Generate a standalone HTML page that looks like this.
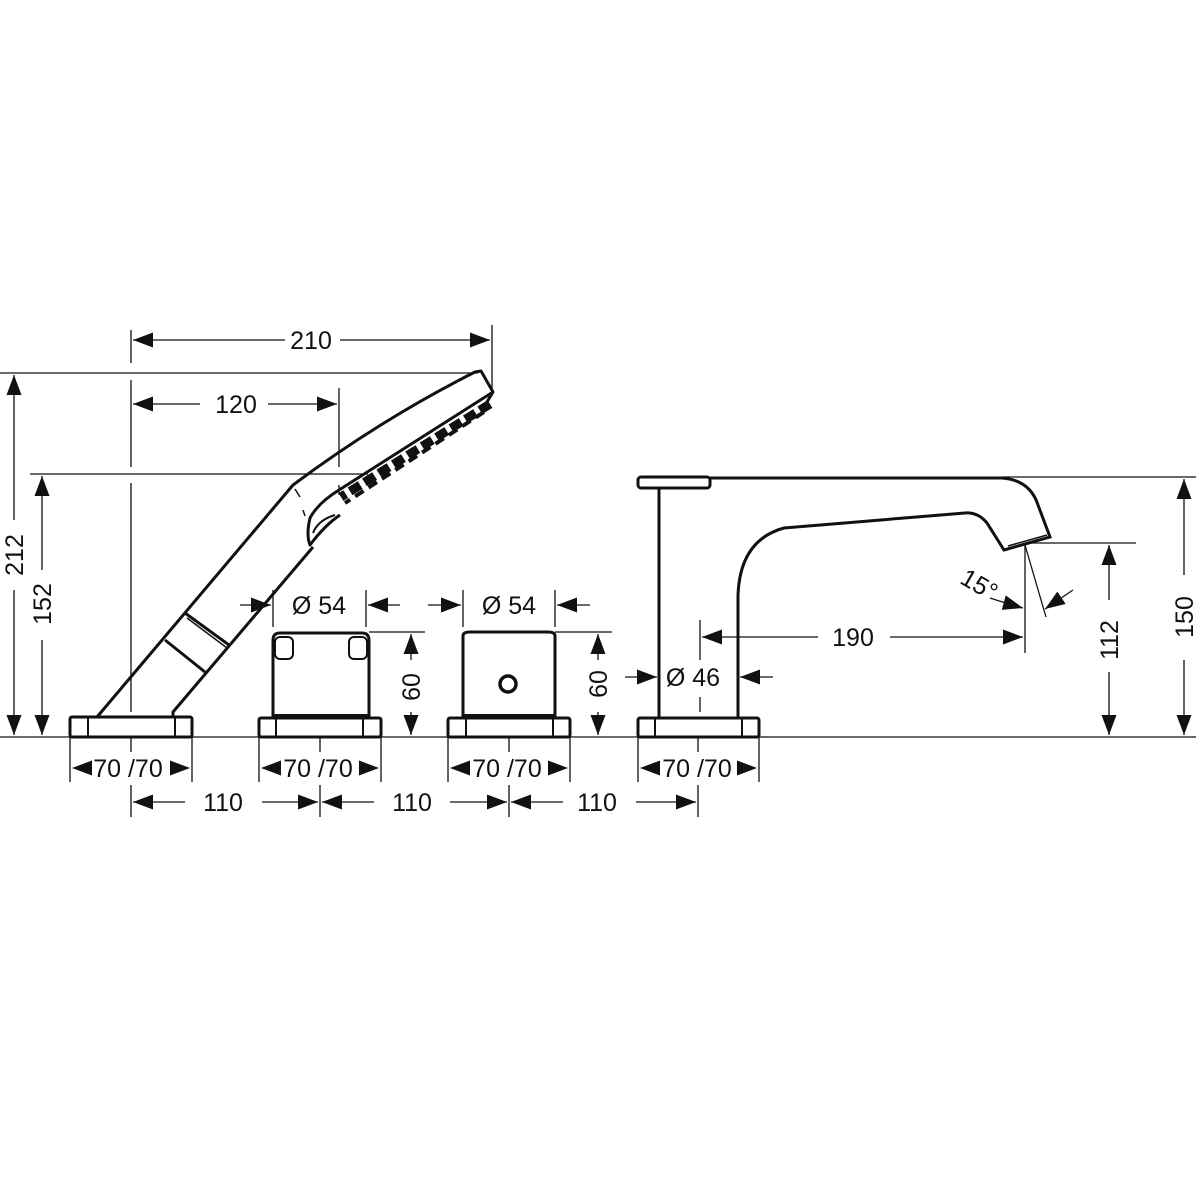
<!DOCTYPE html>
<html><head><meta charset="utf-8"><style>
html,body{margin:0;padding:0;background:#fff;width:1200px;height:1200px;overflow:hidden}
text{font-family:"Liberation Sans",sans-serif;fill:#111}
</style></head><body>
<svg width="1200" height="1200" viewBox="0 0 1200 1200" xmlns="http://www.w3.org/2000/svg">
<defs>
<marker id="a" markerUnits="userSpaceOnUse" markerWidth="22" markerHeight="16" refX="20" refY="7.5" orient="auto">
<path d="M0,0 L20,7.5 L0,15 z" fill="#111"/></marker>
</defs>
<g stroke="#111" fill="none" stroke-width="1.3">
<line x1="0" y1="737" x2="1196" y2="737"/>
<line x1="0" y1="373" x2="478" y2="373"/>
<line x1="30" y1="474" x2="368" y2="474"/>
<line x1="131" y1="330" x2="131" y2="363"/>
<line x1="131" y1="380" x2="131" y2="467"/>
<line x1="131" y1="483" x2="131" y2="712"/>
<line x1="492" y1="325" x2="492" y2="392"/>
<line x1="339" y1="388" x2="339" y2="467"/>
<line x1="339" y1="485" x2="339" y2="495"/>
<line x1="285" y1="340" x2="133" y2="340" marker-end="url(#a)"/>
<line x1="340" y1="340" x2="490" y2="340" marker-end="url(#a)"/>
<line x1="200" y1="404" x2="133" y2="404" marker-end="url(#a)"/>
<line x1="268" y1="404" x2="337" y2="404" marker-end="url(#a)"/>
<line x1="14" y1="520" x2="14" y2="375" marker-end="url(#a)"/>
<line x1="14" y1="590" x2="14" y2="735" marker-end="url(#a)"/>
<line x1="42" y1="570" x2="42" y2="476" marker-end="url(#a)"/>
<line x1="42" y1="640" x2="42" y2="735" marker-end="url(#a)"/>
</g>
<g font-size="25">
<text x="311" y="349" text-anchor="middle">210</text>
<text x="236" y="413" text-anchor="middle">120</text>
<text transform="translate(23,555) rotate(-90)" text-anchor="middle">212</text>
<text transform="translate(51,604) rotate(-90)" text-anchor="middle">152</text>
</g>
<g stroke="#111" fill="none" stroke-width="3" stroke-linejoin="round">
<path d="M97,717 L293,485 Q380,420 475,372 L481,371 L493,392 L487,402"/>
<path d="M173,717 L173,712 L313,547"/>
<path d="M493,392 L339,490 Q318,503 310,518 Q306,535 310,545 Q325,525 340,515"/>
<path d="M313,533 Q318,520 335,515" stroke-width="2"/>
<line x1="185" y1="613" x2="229" y2="645"/>
<line x1="165" y1="640" x2="205" y2="672"/>
<line x1="187" y1="618" x2="227" y2="648" stroke-width="1.5"/>
<path d="M295,489 L300,497 M303,510 L305,516" stroke-width="1.5"/>
<path d="M490,404 L341,497" stroke-width="9" stroke-dasharray="12 5"/>
<path d="M484,412 L345,503" stroke-width="4" stroke-dasharray="10 6"/>
</g>
<g stroke="#111" fill="#fff" stroke-width="3">
<rect x="70" y="717" width="122" height="20" rx="2"/>
<rect x="259" y="718" width="122" height="19" rx="2"/>
<rect x="448" y="718" width="122" height="19" rx="2"/>
<rect x="638" y="718" width="121" height="19" rx="2"/>
</g>
<g stroke="#111" stroke-width="2">
<line x1="88" y1="717" x2="88" y2="737"/><line x1="175" y1="717" x2="175" y2="737"/>
<line x1="276" y1="718" x2="276" y2="737"/><line x1="363" y1="718" x2="363" y2="737"/>
<line x1="466" y1="718" x2="466" y2="737"/><line x1="553" y1="718" x2="553" y2="737"/>
<line x1="655" y1="718" x2="655" y2="737"/><line x1="742" y1="718" x2="742" y2="737"/>
</g>
<g stroke="#111" fill="none" stroke-width="3">
<path d="M273,716 L273,640 Q273,633 280,633 L362,633 Q369,633 369,640 L369,716 Z"/>
<path d="M273,716 L369,716" stroke-width="4"/>
<rect x="275" y="637" width="18" height="22" rx="5" stroke-width="2"/>
<rect x="349" y="637" width="18" height="22" rx="5" stroke-width="2"/>
<path d="M463,716 L463,636 Q463,632 470,632 L548,632 Q555,632 555,636 L555,716 Z"/>
<path d="M463,716 L555,716" stroke-width="4"/>
<circle cx="508" cy="684" r="8" stroke-width="3.5"/>
<rect x="638" y="477" width="72" height="11" rx="3"/>
<path d="M710,478 L1002,478 Q1030,480 1038,505 L1050,537 L1004,550 L987,523 Q978,512 965,513 L784,528 Q740,540 738,595 L738,717"/>
<line x1="659" y1="488" x2="659" y2="717"/>
<line x1="1008" y1="546" x2="1047" y2="535" stroke-width="1.5"/>
</g>
<g stroke="#111" fill="none" stroke-width="1.3">
<line x1="273" y1="590" x2="273" y2="627"/><line x1="366" y1="590" x2="366" y2="627"/>
<line x1="240" y1="605" x2="271" y2="605" marker-end="url(#a)"/>
<line x1="400" y1="605" x2="368" y2="605" marker-end="url(#a)"/>
<line x1="463" y1="590" x2="463" y2="627"/><line x1="555" y1="590" x2="555" y2="627"/>
<line x1="428" y1="605" x2="461" y2="605" marker-end="url(#a)"/>
<line x1="590" y1="605" x2="557" y2="605" marker-end="url(#a)"/>
<line x1="369" y1="632" x2="425" y2="632"/>
<line x1="411" y1="660" x2="411" y2="634" marker-end="url(#a)"/>
<line x1="411" y1="712" x2="411" y2="735" marker-end="url(#a)"/>
<line x1="555" y1="632" x2="612" y2="632"/>
<line x1="598" y1="660" x2="598" y2="634" marker-end="url(#a)"/>
<line x1="598" y1="712" x2="598" y2="735" marker-end="url(#a)"/>
<line x1="625" y1="677" x2="657" y2="677" marker-end="url(#a)"/>
<line x1="773" y1="677" x2="740" y2="677" marker-end="url(#a)"/>
<line x1="700" y1="620" x2="700" y2="660"/>
<line x1="700" y1="697" x2="700" y2="712"/>
<line x1="1025" y1="543" x2="1025" y2="653"/>
<line x1="818" y1="637" x2="702" y2="637" marker-end="url(#a)"/>
<line x1="890" y1="637" x2="1023" y2="637" marker-end="url(#a)"/>
<line x1="1025" y1="545" x2="1046" y2="617"/>
<path d="M990,598 Q1005,603 1023,608" marker-end="url(#a)"/>
<line x1="1073" y1="590" x2="1045" y2="609" marker-end="url(#a)"/>
<line x1="1029" y1="543" x2="1136" y2="543"/>
<line x1="1002" y1="477" x2="1196" y2="477"/>
<line x1="1109" y1="600" x2="1109" y2="545" marker-end="url(#a)"/>
<line x1="1109" y1="672" x2="1109" y2="735" marker-end="url(#a)"/>
<line x1="1184" y1="575" x2="1184" y2="479" marker-end="url(#a)"/>
<line x1="1184" y1="660" x2="1184" y2="735" marker-end="url(#a)"/>
<line x1="70" y1="737" x2="70" y2="782"/><line x1="192" y1="737" x2="192" y2="782"/>
<line x1="259" y1="737" x2="259" y2="782"/><line x1="381" y1="737" x2="381" y2="782"/>
<line x1="448" y1="737" x2="448" y2="782"/><line x1="570" y1="737" x2="570" y2="782"/>
<line x1="638" y1="737" x2="638" y2="782"/><line x1="759" y1="737" x2="759" y2="782"/>
<line x1="131" y1="737" x2="131" y2="752"/><line x1="131" y1="785" x2="131" y2="817"/>
<line x1="320" y1="737" x2="320" y2="752"/><line x1="320" y1="785" x2="320" y2="817"/>
<line x1="509" y1="737" x2="509" y2="752"/><line x1="509" y1="785" x2="509" y2="817"/>
<line x1="698" y1="737" x2="698" y2="752"/><line x1="698" y1="785" x2="698" y2="817"/>
<line x1="89" y1="768" x2="72" y2="768" stroke="none" marker-end="url(#a)"/>
<line x1="173" y1="768" x2="190" y2="768" stroke="none" marker-end="url(#a)"/>
<line x1="278" y1="768" x2="261" y2="768" stroke="none" marker-end="url(#a)"/>
<line x1="362" y1="768" x2="379" y2="768" stroke="none" marker-end="url(#a)"/>
<line x1="467" y1="768" x2="450" y2="768" stroke="none" marker-end="url(#a)"/>
<line x1="551" y1="768" x2="568" y2="768" stroke="none" marker-end="url(#a)"/>
<line x1="657" y1="768" x2="640" y2="768" stroke="none" marker-end="url(#a)"/>
<line x1="740" y1="768" x2="757" y2="768" stroke="none" marker-end="url(#a)"/>
<line x1="185" y1="802" x2="133" y2="802" marker-end="url(#a)"/>
<line x1="262" y1="802" x2="318" y2="802" marker-end="url(#a)"/>
<line x1="374" y1="802" x2="322" y2="802" marker-end="url(#a)"/>
<line x1="450" y1="802" x2="507" y2="802" marker-end="url(#a)"/>
<line x1="563" y1="802" x2="511" y2="802" marker-end="url(#a)"/>
<line x1="636" y1="802" x2="696" y2="802" marker-end="url(#a)"/>
</g>
<g font-size="25">
<text x="319" y="614" text-anchor="middle">Ø 54</text>
<text x="509" y="614" text-anchor="middle">Ø 54</text>
<text transform="translate(420,687) rotate(-90)" text-anchor="middle">60</text>
<text transform="translate(607,684) rotate(-90)" text-anchor="middle">60</text>
<text x="693" y="686" text-anchor="middle">Ø 46</text>
<text x="853" y="646" text-anchor="middle">190</text>
<text transform="translate(975,592) rotate(30)" text-anchor="middle">15°</text>
<text transform="translate(1118,640) rotate(-90)" text-anchor="middle">112</text>
<text transform="translate(1193,617) rotate(-90)" text-anchor="middle">150</text>
<text x="128" y="777" text-anchor="middle">70 /70</text>
<text x="318" y="777" text-anchor="middle">70 /70</text>
<text x="507" y="777" text-anchor="middle">70 /70</text>
<text x="697" y="777" text-anchor="middle">70 /70</text>
<text x="223" y="811" text-anchor="middle">110</text>
<text x="412" y="811" text-anchor="middle">110</text>
<text x="597" y="811" text-anchor="middle">110</text>
</g>
</svg>
</body></html>
